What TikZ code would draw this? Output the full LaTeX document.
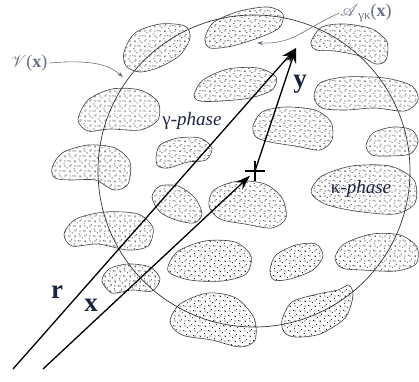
\documentclass[tikz,border=0pt]{standalone}
\usepackage{fontspec}
\setmainfont{Liberation Serif}
\usepackage{mathrsfs}
\usepackage{tikz}
\usetikzlibrary{arrows.meta,patterns.meta,shapes.misc}
\definecolor{ink}{HTML}{1c2340}
\definecolor{note}{HTML}{6a7080}
\definecolor{dotgray}{HTML}{262626}

\tikzset{
  blob/.style={draw=black!75,line width=.6pt,
    pattern={Dots[distance=5pt,radius=.62pt]},pattern color=dotgray,
    postaction={pattern={Dots[distance=5pt,angle=37,radius=.62pt,xshift=1.6pt,yshift=.9pt]},pattern color=dotgray}},
  vec/.style={-{Stealth[length=15pt,width=10pt]},line width=1.3pt},
  notearrow/.style={-{Stealth[length=6pt,width=4pt]},note,line width=.6pt},
  bold lbl/.style={ink,font=\fontsize{27}{29}\selectfont\bfseries},
  phase lbl/.style={ink,font=\fontsize{19}{21}\selectfont},
}

\begin{document}
\begin{tikzpicture}[x=1pt,y=-1pt]
  \useasboundingbox (0,0) rectangle (419,381);
  % inclusions
  \draw[blob] plot[smooth cycle] coordinates {(124,52) (135,33) (160,24) (185,26) (190,38) (180,55) (160,67) (140,72) (126,66)};
  \draw[blob] plot[smooth cycle] coordinates {(205,38) (214,22) (240,11) (268,7) (283,14) (279,28) (258,38) (232,46) (210,48)};
  \draw[blob] plot[smooth cycle] coordinates {(311,42) (322,27) (345,24) (372,29) (387,42) (386,60) (376,64) (360,56) (335,51) (316,50)};
  \draw[blob] plot[smooth cycle] coordinates {(78,120) (88,100) (112,89) (140,90) (158,102) (158,120) (140,130) (110,129) (88,131)};
  \draw[blob] plot[smooth cycle] coordinates {(194,95) (203,80) (228,69) (258,68) (276,77) (272,90) (250,98) (222,101) (200,101)};
  \draw[blob] plot[smooth cycle] coordinates {(314,97) (320,83) (345,77) (385,78) (412,86) (418,100) (405,111) (375,108) (345,110) (322,108)};
  \draw[blob] plot[smooth cycle] coordinates {(253,126) (262,112) (285,107) (315,110) (331,122) (332,140) (320,150) (295,146) (270,142) (256,137)};
  \draw[blob] plot[smooth cycle] coordinates {(156,158) (160,145) (178,138) (200,138) (212,148) (206,160) (188,162) (168,168) (158,166)};
  \draw[blob] plot[smooth cycle] coordinates {(52,168) (62,153) (88,145) (115,148) (130,162) (128,184) (114,190) (95,180) (70,180) (55,178)};
  \draw[blob] plot[smooth cycle] coordinates {(366,146) (373,133) (393,127) (412,130) (418,142) (410,154) (388,156) (372,155)};
  \draw[blob] plot[smooth cycle] coordinates {(311,192) (322,176) (352,166) (390,166) (414,180) (415,203) (395,214) (355,211) (325,204)};
  \draw[blob] plot[smooth cycle] coordinates {(152,197) (160,186) (178,186) (195,198) (202,214) (194,223) (176,220) (160,212)};
  \draw[blob] plot[smooth cycle] coordinates {(209,206) (214,190) (238,181) (265,184) (282,198) (286,218) (272,228) (245,224) (220,219)};
  \draw[blob] plot[smooth cycle] coordinates {(64,234) (76,219) (105,212) (138,214) (153,228) (148,246) (128,250) (98,244) (72,246)};
  \draw[blob] plot[smooth cycle] coordinates {(102,281) (109,269) (128,264) (150,267) (160,279) (152,291) (132,290) (112,293)};
  \draw[blob] plot[smooth cycle] coordinates {(168,271) (177,252) (205,241) (235,242) (251,256) (246,274) (222,281) (190,280)};
  \draw[blob] plot[smooth cycle] coordinates {(270,270) (276,255) (296,245) (316,244) (323,256) (313,270) (290,279) (274,280)};
  \draw[blob] plot[smooth cycle] coordinates {(335,258) (344,244) (372,234) (400,235) (417,247) (416,264) (396,271) (362,270) (342,268)};
  \draw[blob] plot[smooth cycle] coordinates {(170,322) (180,304) (208,293) (236,298) (254,318) (255,340) (240,347) (212,340) (182,335)};
  \draw[blob] plot[smooth cycle] coordinates {(282,320) (292,302) (318,294) (338,290) (349,285) (353,296) (345,318) (320,334) (295,337) (284,332)};
  % averaging volume
  \draw[line width=.7pt,black!80] (254,171) circle[radius=156];
  % position vectors
  \coordinate (r0) at (13,369);
  \coordinate (x0) at (43,369);
  \coordinate (tip) at (296,48);
  \node[draw,cross out,rotate=45,minimum size=12pt,inner sep=0pt,line width=1.6pt] (p) at (255,171) {};
  \draw[vec] (r0) -- (tip);
  \draw[vec] (x0) -- (p);
  \draw[vec] (p.center) -- (tip);
  \node[bold lbl] (rlab) at (57,292) {r};
  \node[bold lbl] (xlab) at (91,305) {x};
  \node[bold lbl] (ylab) at (300,84) {y};
  % phases
  \node[phase lbl] (gam) at (192,121) {γ-\textit{phase}};
  \node[phase lbl] (kap) at (361,189) {κ-\textit{phase}};
  % annotations
  \node[note,font=\fontsize{18}{20}\selectfont,inner sep=2pt] (vlab) at (29,63) {$\mathscr{V}$(\textbf{x})};
  \coordinate (vend) at (123,77);
  \draw[notearrow] (vlab.east) .. controls (95,59) and (110,66) .. (vend);
  \node[note,font=\fontsize{18}{20}\selectfont,inner sep=1pt] (alab) at (366,13) {$\mathscr{A}$\raisebox{-.35ex}{\fontsize{13}{14}\selectfont γκ}(\textbf{x})};
  \coordinate (aend) at (257,43);
  \draw[notearrow] (alab.west) .. controls (302,30) and (294,44) .. (aend);
\end{tikzpicture}
\end{document}
